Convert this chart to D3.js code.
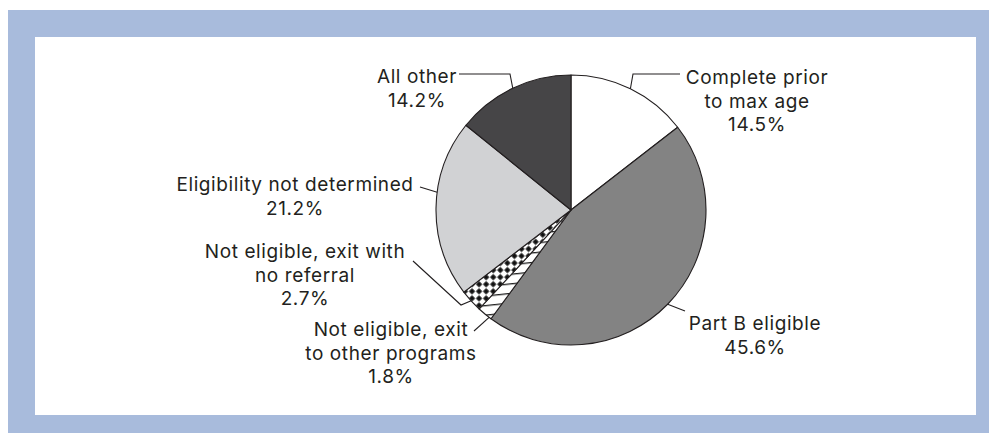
<!DOCTYPE html>
<html><head><meta charset="utf-8">
<script src="https://cdn.jsdelivr.net/npm/d3@7"></script>
<style>html,body{margin:0;padding:0;background:#fff;}svg{display:block;}</style>
</head><body>
<script>
// ---- data ----
const categories = ["Complete prior to max age","Part B eligible","Not eligible, exit to other programs","Not eligible, exit with no referral","Eligibility not determined","All other"];
const values = [14.5, 45.6, 1.8, 2.7, 21.2, 14.2];
const labelLines = [
  ["Complete prior","to max age","14.5%"],
  ["Part B eligible","45.6%"],
  ["Not eligible, exit","to other programs","1.8%"],
  ["Not eligible, exit with","no referral","2.7%"],
  ["Eligibility not determined","21.2%"],
  ["All other","14.2%"]
];
const fills = ["#ffffff","#838383","url(#hlines)","url(#checker)","#d1d2d4","#464547"];

// ---- layout ----
const W = 989, H = 433;
const cx = 571, cy = 210, R = 135;
const labelLayout = [
  {x:757, y:84, lead:[[680,74],[633,74]], f:0.5},
  {x:755, y:330, lead:[[685,311]], f:0.5},
  {x:391, y:336, lead:[[474,331]], f:0.15},
  {x:305, y:258, lead:[[413,261],[461,305]], f:0.5},
  {x:295, y:191, lead:[[420,187]], f:0.59},
  {x:417, y:83, lead:[[459,74],[510,74]], f:0.5}
];
const lineH = 23.5;

const svg = d3.select("body").append("svg").attr("width", W).attr("height", H);

// frame
svg.append("rect").attr("x",8).attr("y",10).attr("width",W-8).attr("height",H-10).attr("fill","#a8bbdc");
svg.append("rect").attr("x",35).attr("y",37).attr("width",941).attr("height",378).attr("fill","#ffffff");

// patterns
const defs = svg.append("defs");
const hp = defs.append("pattern").attr("id","hlines").attr("patternUnits","userSpaceOnUse")
  .attr("width",9).attr("height",9.5).attr("patternTransform","rotate(-6)");
hp.append("rect").attr("width",9).attr("height",9.5).attr("fill","#fff");
hp.append("rect").attr("y",0).attr("width",9).attr("height",1.3).attr("fill","#222");
const cp = defs.append("pattern").attr("id","checker").attr("patternUnits","userSpaceOnUse")
  .attr("width",10).attr("height",10).attr("patternTransform","rotate(45)");
cp.append("rect").attr("width",10).attr("height",10).attr("fill","#fff");
cp.append("rect").attr("x",0.25).attr("y",0.25).attr("width",4.5).attr("height",4.5).attr("fill","#111");
cp.append("rect").attr("x",5.25).attr("y",5.25).attr("width",4.5).attr("height",4.5).attr("fill","#111");

const pie = d3.pie().sort(null).value(d => d)(values);
const arc = d3.arc().innerRadius(0).outerRadius(R);
const g = svg.append("g").attr("transform",`translate(${cx},${cy})`);
g.selectAll("path").data(pie).join("path")
  .attr("d", arc)
  .attr("fill", (d,i) => fills[i])
  .attr("stroke", "#231f20").attr("stroke-width", 1.1).attr("stroke-linejoin","round");

// leaders
pie.forEach((d,i) => {
  const L = labelLayout[i];
  const a = d.startAngle + (d.endAngle - d.startAngle) * L.f;
  const ex = cx + R * Math.sin(a), ey = cy - R * Math.cos(a);
  const pts = L.lead.concat([[ex,ey]]);
  svg.append("path").attr("d", d3.line()(pts)).attr("fill","none").attr("stroke","#231f20").attr("stroke-width",1.1);
});

// labels
labelLines.forEach((lines,i) => {
  const L = labelLayout[i];
  const t = svg.append("text").attr("text-anchor","middle")
    .attr("font-family","Inter, sans-serif").attr("font-size",19)
    .attr("letter-spacing","0.6px").attr("fill","#231f20");
  lines.forEach((s,k) => t.append("tspan").attr("x",L.x).attr("y",L.y + k*lineH).text(s));
});
</script>
</body></html>
